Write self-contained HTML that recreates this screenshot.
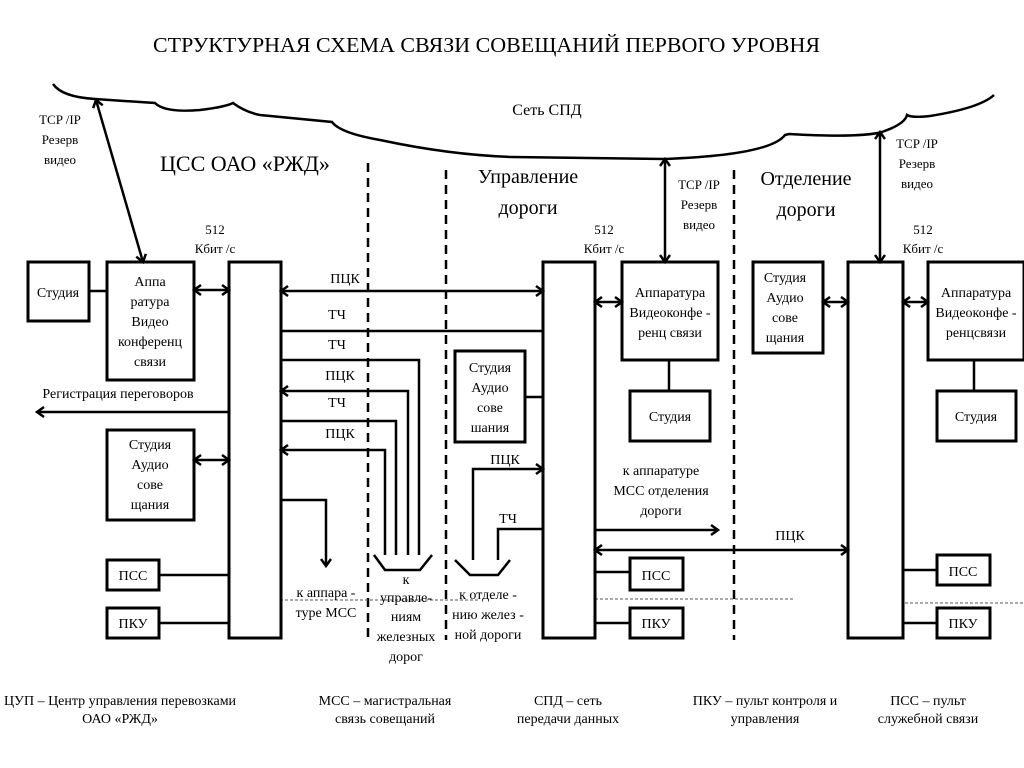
<!DOCTYPE html>
<html><head><meta charset="utf-8"><style>
html,body{margin:0;padding:0;background:#fff}
svg{display:block}
text{font-family:"Liberation Serif",serif;fill:#000}
</style></head><body>
<svg width="1024" height="768" viewBox="0 0 1024 768" xmlns="http://www.w3.org/2000/svg">
<defs>
<marker id="a" markerWidth="12" markerHeight="12" refX="9" refY="6" orient="auto-start-reverse" markerUnits="userSpaceOnUse">
<path d="M2,1 L9,6 L2,11" fill="none" stroke="#000" stroke-width="2.5"/>
</marker>
</defs>
<text x="153" y="52" font-size="21" textLength="667" lengthAdjust="spacingAndGlyphs">СТРУКТУРНАЯ СХЕМА СВЯЗИ СОВЕЩАНИЙ ПЕРВОГО УРОВНЯ</text>
<path d="M53,84 Q62,97 95,99 L155,103 Q165,113 200,110 Q225,107 233,103 Q245,112 260,115 L332,122 Q340,133 380,140 Q450,155 512,157 L665,159 Q770,155 785,135 L789,134 Q860,138 882,132 Q905,124 907,115 Q912,118 930,116 Q980,108 994,95" fill="none" stroke="#000" stroke-width="2.5"/>
<text x="547" y="115" font-size="16" text-anchor="middle">Сеть СПД</text>
<text x="245" y="171" font-size="22" text-anchor="middle">ЦСС ОАО  «РЖД»</text>
<text x="528" y="183" font-size="20" text-anchor="middle">Управление</text>
<text x="528" y="214" font-size="20" text-anchor="middle">дороги</text>
<text x="806" y="185" font-size="20" text-anchor="middle">Отделение</text>
<text x="806" y="216" font-size="20" text-anchor="middle">дороги</text>
<g font-size="13" text-anchor="middle">
<text x="60" y="124">TCP /IP</text><text x="60" y="144">Резерв</text><text x="60" y="164">видео</text>
<text x="699" y="189">TCP /IP</text><text x="699" y="209">Резерв</text><text x="699" y="229">видео</text>
<text x="917" y="148">TCP /IP</text><text x="917" y="168">Резерв</text><text x="917" y="188">видео</text>
<text x="215" y="234">512</text><text x="215" y="253">Кбит /с</text>
<text x="604" y="234">512</text><text x="604" y="253">Кбит /с</text>
<text x="923" y="234">512</text><text x="923" y="253">Кбит /с</text>
</g>
<g stroke="#000" stroke-width="2.5" stroke-dasharray="9,6">
<line x1="368" y1="163" x2="368" y2="640"/>
<line x1="446" y1="170" x2="446" y2="640"/>
<line x1="734" y1="170" x2="734" y2="640"/>
</g>
<g stroke="#555" stroke-width="1" stroke-dasharray="3,2">
<line x1="260" y1="600" x2="480" y2="600"/>
<line x1="575" y1="599" x2="795" y2="599"/>
<line x1="880" y1="603" x2="1024" y2="603"/>
</g>
<g fill="#fff" stroke="#000" stroke-width="3">
<rect x="28" y="262" width="61" height="59"/>
<rect x="107" y="262" width="87" height="118"/>
<rect x="229" y="262" width="52" height="376"/>
<rect x="107" y="430" width="87" height="90"/>
<rect x="107" y="560" width="52" height="30"/>
<rect x="107" y="608" width="52" height="30"/>
<rect x="543" y="262" width="52" height="376"/>
<rect x="622" y="262" width="96" height="98"/>
<rect x="630" y="391" width="80" height="50"/>
<rect x="455" y="351" width="70" height="91"/>
<rect x="630" y="558" width="53" height="32"/>
<rect x="630" y="608" width="53" height="30"/>
<rect x="753" y="262" width="70" height="91"/>
<rect x="848" y="262" width="55" height="376"/>
<rect x="928" y="262" width="96" height="98"/>
<rect x="937" y="391" width="79" height="50"/>
<rect x="937" y="555" width="53" height="30"/>
<rect x="937" y="608" width="53" height="30"/>
</g>
<g fill="none" stroke="#000" stroke-width="2.5">
<line x1="96" y1="100" x2="143" y2="262" marker-start="url(#a)" marker-end="url(#a)"/>
<line x1="665" y1="159" x2="665" y2="262" marker-start="url(#a)" marker-end="url(#a)"/>
<line x1="880" y1="132" x2="880" y2="262" marker-start="url(#a)" marker-end="url(#a)"/>
<line x1="89" y1="291" x2="107" y2="291"/>
<line x1="194" y1="290" x2="229" y2="290" marker-start="url(#a)" marker-end="url(#a)"/>
<line x1="229" y1="412" x2="37" y2="412" marker-end="url(#a)"/>
<line x1="194" y1="460" x2="229" y2="460" marker-start="url(#a)" marker-end="url(#a)"/>
<line x1="159" y1="575" x2="229" y2="575"/>
<line x1="159" y1="623" x2="229" y2="623"/>
<line x1="281" y1="291" x2="543" y2="291" marker-start="url(#a)" marker-end="url(#a)"/>
<line x1="281" y1="331" x2="543" y2="331"/>
<polyline points="281,360 419,360 419,555"/>
<polyline points="408,555 408,391 281,391" marker-end="url(#a)"/>
<polyline points="281,421 396,421 396,555"/>
<polyline points="385,555 385,450 281,450" marker-end="url(#a)"/>
<polyline points="374,555 385,570 420,570 432,555"/>
<polyline points="281,500 326,500 326,566" marker-end="url(#a)"/>
<line x1="525" y1="397" x2="543" y2="397"/>
<polyline points="473,560 473,469 543,469" marker-end="url(#a)"/>
<polyline points="498,560 498,529 543,529"/>
<polyline points="455,560 470,575 498,575 510,560"/>
<line x1="595" y1="302" x2="622" y2="302" marker-start="url(#a)" marker-end="url(#a)"/>
<line x1="669" y1="360" x2="669" y2="391"/>
<line x1="595" y1="530" x2="718" y2="530" marker-end="url(#a)"/>
<line x1="595" y1="550" x2="848" y2="550" marker-start="url(#a)" marker-end="url(#a)"/>
<line x1="595" y1="572" x2="630" y2="572"/>
<line x1="595" y1="623" x2="630" y2="623"/>
<line x1="823" y1="302" x2="848" y2="302" marker-start="url(#a)" marker-end="url(#a)"/>
<line x1="903" y1="302" x2="928" y2="302" marker-start="url(#a)" marker-end="url(#a)"/>
<line x1="974" y1="360" x2="974" y2="391"/>
<line x1="903" y1="570" x2="937" y2="570"/>
<line x1="903" y1="623" x2="937" y2="623"/>
</g>
<g font-size="14" text-anchor="middle">
<text x="58" y="297">Студия</text>
<text x="150" y="286">Аппа</text><text x="150" y="306">ратура</text><text x="150" y="326">Видео</text><text x="150" y="346">конференц</text><text x="150" y="366">связи</text>
<text x="118" y="398">Регистрация переговоров</text>
<text x="150" y="449">Студия</text><text x="150" y="469">Аудио</text><text x="150" y="489">сове</text><text x="150" y="509">щания</text>
<text x="133" y="580">ПСС</text><text x="133" y="628">ПКУ</text>
<text x="345" y="283">ПЦК</text><text x="337" y="319">ТЧ</text><text x="337" y="349">ТЧ</text>
<text x="340" y="380">ПЦК</text><text x="337" y="407">ТЧ</text><text x="340" y="438">ПЦК</text>
<text x="326" y="597">к аппара -</text><text x="326" y="617">туре МСС</text>
<text x="406" y="584">к</text><text x="406" y="602">управле-</text><text x="406" y="621">ниям</text><text x="406" y="641">железных</text><text x="406" y="661">дорог</text>
<text x="488" y="599">к отделе -</text><text x="488" y="619">нию желез -</text><text x="488" y="639">ной дороги</text>
<text x="490" y="372">Студия</text><text x="490" y="392">Аудио</text><text x="490" y="412">сове</text><text x="490" y="432">шания</text>
<text x="505" y="464">ПЦК</text><text x="508" y="523">ТЧ</text>
<text x="670" y="297">Аппаратура</text><text x="670" y="317">Видеоконфе -</text><text x="670" y="337">ренц связи</text>
<text x="670" y="421">Студия</text>
<text x="661" y="475">к аппаратуре</text><text x="661" y="495">МСС отделения</text><text x="661" y="515">дороги</text>
<text x="790" y="540">ПЦК</text>
<text x="656" y="580">ПСС</text><text x="656" y="628">ПКУ</text>
<text x="785" y="282">Студия</text><text x="785" y="302">Аудио</text><text x="785" y="322">сове</text><text x="785" y="342">щания</text>
<text x="976" y="297">Аппаратура</text><text x="976" y="317">Видеоконфе -</text><text x="976" y="337">ренцсвязи</text>
<text x="976" y="421">Студия</text>
<text x="963" y="576">ПСС</text><text x="963" y="628">ПКУ</text>
<text x="120" y="705">ЦУП – Центр управления перевозками</text><text x="120" y="723">ОАО «РЖД»</text>
<text x="385" y="705">МСС – магистральная</text><text x="385" y="723">связь совещаний</text>
<text x="568" y="705">СПД – сеть</text><text x="568" y="723">передачи данных</text>
<text x="765" y="705">ПКУ – пульт контроля и</text><text x="765" y="723">управления</text>
<text x="928" y="705">ПСС – пульт</text><text x="928" y="723">служебной связи</text>
</g>
</svg>
</body></html>
